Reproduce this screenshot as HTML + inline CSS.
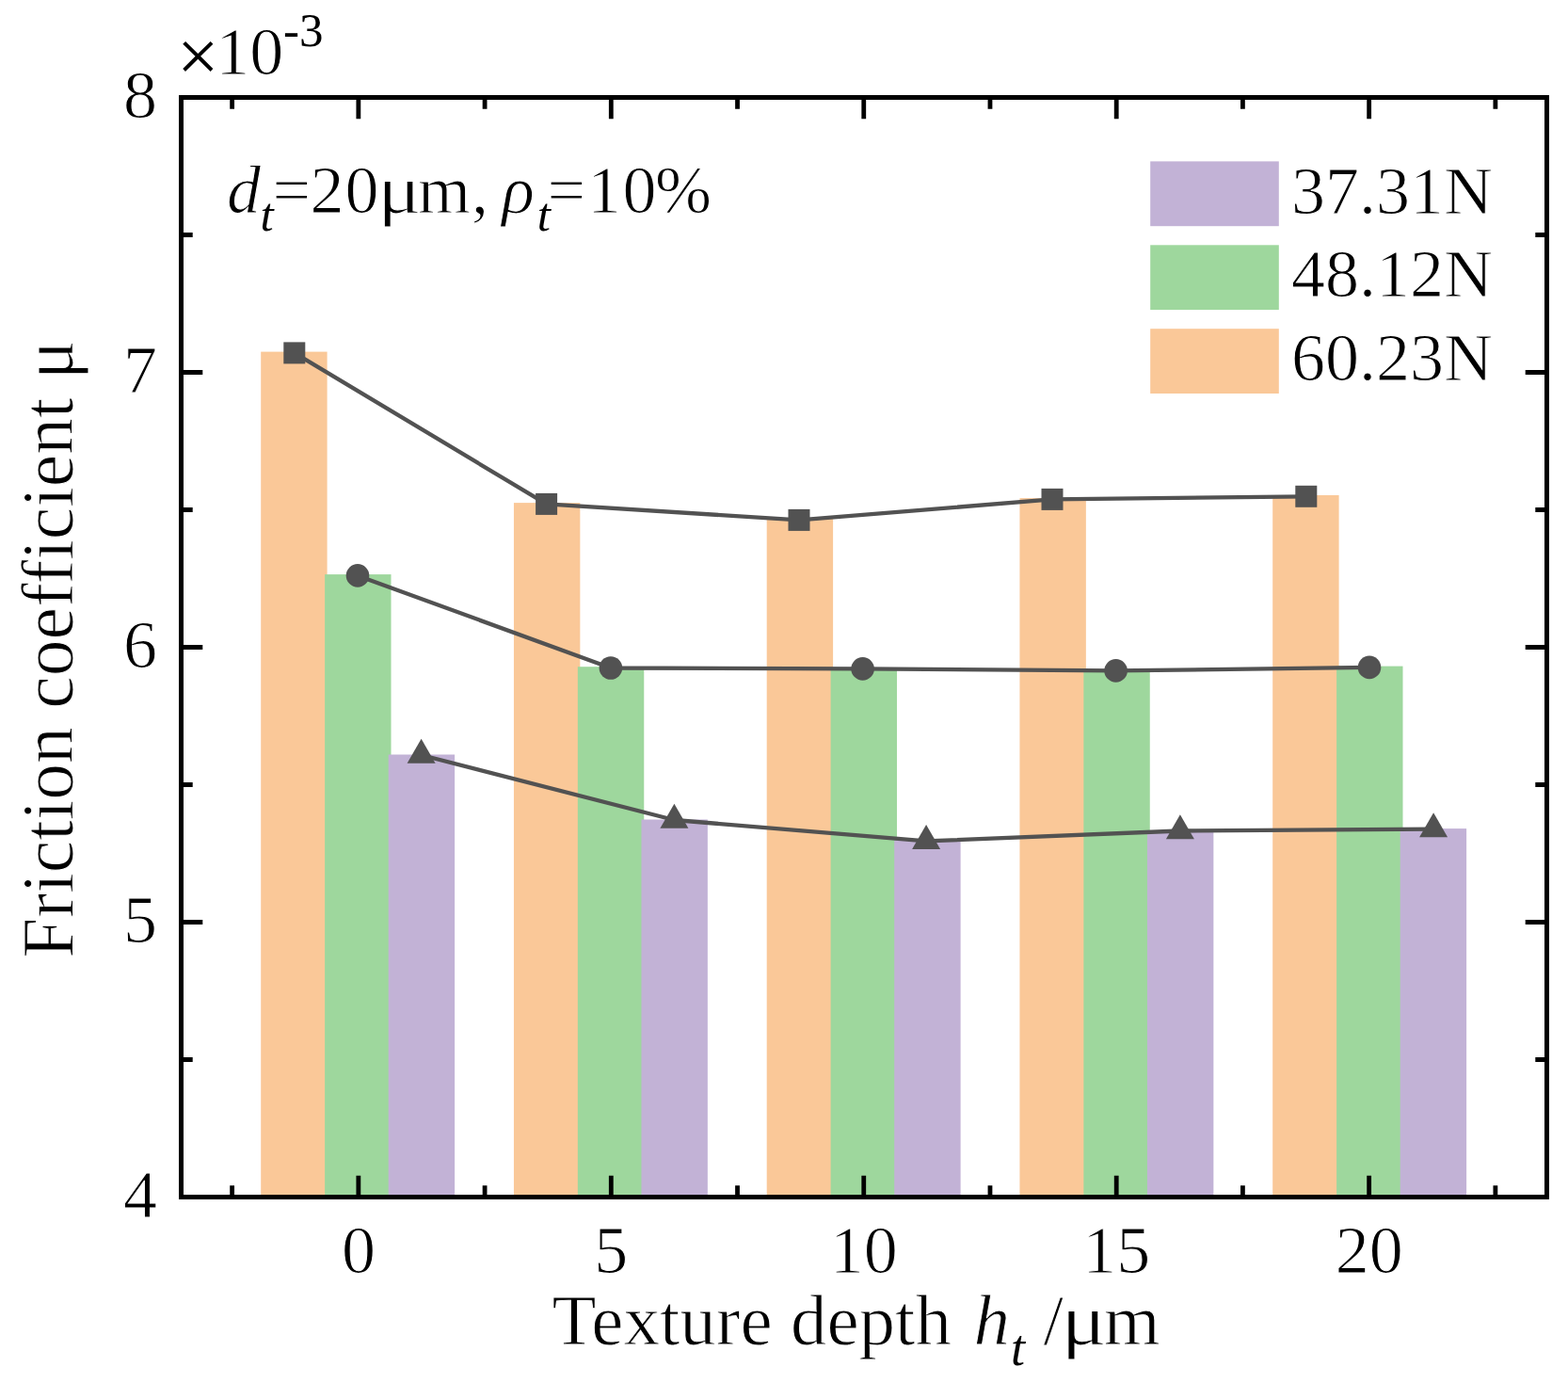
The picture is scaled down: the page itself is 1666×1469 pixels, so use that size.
<!DOCTYPE html>
<html><head><meta charset="utf-8"><title>Friction coefficient chart</title>
<style>html,body{margin:0;padding:0;background:#fff}svg{display:block}</style></head>
<body><svg width="1666" height="1469" viewBox="0 0 1666 1469">
<rect x="0" y="0" width="1666" height="1469" fill="#fff"/>
<rect x="277.20" y="373.60" width="70.40" height="897.90" fill="#FAC898"/>
<rect x="545.95" y="534.10" width="70.40" height="737.40" fill="#FAC898"/>
<rect x="814.70" y="551.10" width="70.40" height="720.40" fill="#FAC898"/>
<rect x="1083.45" y="529.10" width="70.40" height="742.40" fill="#FAC898"/>
<rect x="1352.20" y="526.00" width="70.40" height="745.50" fill="#FAC898"/>
<rect x="345.10" y="610.10" width="70.40" height="661.40" fill="#9ED79D"/>
<rect x="613.85" y="708.20" width="70.40" height="563.30" fill="#9ED79D"/>
<rect x="882.60" y="709.10" width="70.40" height="562.40" fill="#9ED79D"/>
<rect x="1151.35" y="711.10" width="70.40" height="560.40" fill="#9ED79D"/>
<rect x="1420.10" y="707.60" width="70.40" height="563.90" fill="#9ED79D"/>
<rect x="412.70" y="801.50" width="70.40" height="470.00" fill="#C2B2D6"/>
<rect x="681.45" y="870.50" width="70.40" height="401.00" fill="#C2B2D6"/>
<rect x="950.20" y="892.90" width="70.40" height="378.60" fill="#C2B2D6"/>
<rect x="1218.95" y="882.00" width="70.40" height="389.50" fill="#C2B2D6"/>
<rect x="1487.70" y="880.10" width="70.40" height="391.40" fill="#C2B2D6"/>
<polyline fill="none" stroke="#525252" stroke-width="4.3" stroke-linejoin="round" points="312.8,374.9 580.6,535.4 849.0,552.4 1118.0,530.4 1387.8,527.3"/>
<polyline fill="none" stroke="#525252" stroke-width="4.3" stroke-linejoin="round" points="380.0,611.4 648.9,709.5 916.6,710.4 1185.6,712.4 1455.0,708.9"/>
<polyline fill="none" stroke="#525252" stroke-width="4.3" stroke-linejoin="round" points="447.6,802.0 716.4,871.0 984.1,893.4 1253.9,882.5 1523.1,880.6"/>
<rect x="301.30" y="363.40" width="23" height="23" fill="#525252"/>
<rect x="569.10" y="523.90" width="23" height="23" fill="#525252"/>
<rect x="837.50" y="540.90" width="23" height="23" fill="#525252"/>
<rect x="1106.50" y="518.90" width="23" height="23" fill="#525252"/>
<rect x="1376.30" y="515.80" width="23" height="23" fill="#525252"/>
<circle cx="380.0" cy="611.4" r="12.3" fill="#525252"/>
<circle cx="648.9" cy="709.5" r="12.3" fill="#525252"/>
<circle cx="916.6" cy="710.4" r="12.3" fill="#525252"/>
<circle cx="1185.6" cy="712.4" r="12.3" fill="#525252"/>
<circle cx="1455.0" cy="708.9" r="12.3" fill="#525252"/>
<polygon fill="#525252" points="447.60,784.68 462.60,810.66 432.60,810.66"/>
<polygon fill="#525252" points="716.40,853.68 731.40,879.66 701.40,879.66"/>
<polygon fill="#525252" points="984.10,876.08 999.10,902.06 969.10,902.06"/>
<polygon fill="#525252" points="1253.90,865.18 1268.90,891.16 1238.90,891.16"/>
<polygon fill="#525252" points="1523.10,863.28 1538.10,889.26 1508.10,889.26"/>
<path d="M380.85 1271.5V1248.7M380.85 103.5V126.3M649.30 1271.5V1248.7M649.30 103.5V126.3M917.75 1271.5V1248.7M917.75 103.5V126.3M1186.20 1271.5V1248.7M1186.20 103.5V126.3M1454.65 1271.5V1248.7M1454.65 103.5V126.3M246.63 1271.5V1259.3M246.63 103.5V115.7M515.08 1271.5V1259.3M515.08 103.5V115.7M783.52 1271.5V1259.3M783.52 103.5V115.7M1051.97 1271.5V1259.3M1051.97 103.5V115.7M1320.42 1271.5V1259.3M1320.42 103.5V115.7M1588.88 1271.5V1259.3M1588.88 103.5V115.7M192.5 979.50H215.3M1643.5 979.50H1620.7M192.5 687.50H215.3M1643.5 687.50H1620.7M192.5 395.50H215.3M1643.5 395.50H1620.7M192.5 1125.50H204.7M1643.5 1125.50H1631.3M192.5 833.50H204.7M1643.5 833.50H1631.3M192.5 541.50H204.7M1643.5 541.50H1631.3M192.5 249.50H204.7M1643.5 249.50H1631.3" stroke="#000" stroke-width="4.8" fill="none"/>
<rect x="192.5" y="103.5" width="1451.0" height="1168.0" fill="none" stroke="#000" stroke-width="5" stroke-linejoin="miter"/>
<text x="167" y="1293.0" font-family="Liberation Serif, Times New Roman, serif" stroke="#fff" stroke-width="1" font-size="72" text-anchor="end">4</text>
<text x="167" y="1001.0" font-family="Liberation Serif, Times New Roman, serif" stroke="#fff" stroke-width="1" font-size="72" text-anchor="end">5</text>
<text x="167" y="709.0" font-family="Liberation Serif, Times New Roman, serif" stroke="#fff" stroke-width="1" font-size="72" text-anchor="end">6</text>
<text x="167" y="417.0" font-family="Liberation Serif, Times New Roman, serif" stroke="#fff" stroke-width="1" font-size="72" text-anchor="end">7</text>
<text x="167" y="125.0" font-family="Liberation Serif, Times New Roman, serif" stroke="#fff" stroke-width="1" font-size="72" text-anchor="end">8</text>
<text x="380.9" y="1352" font-family="Liberation Serif, Times New Roman, serif" stroke="#fff" stroke-width="1" font-size="72" text-anchor="middle">0</text>
<text x="649.3" y="1352" font-family="Liberation Serif, Times New Roman, serif" stroke="#fff" stroke-width="1" font-size="72" text-anchor="middle">5</text>
<text x="917.8" y="1352" font-family="Liberation Serif, Times New Roman, serif" stroke="#fff" stroke-width="1" font-size="72" text-anchor="middle">10</text>
<text x="1186.2" y="1352" font-family="Liberation Serif, Times New Roman, serif" stroke="#fff" stroke-width="1" font-size="72" text-anchor="middle">15</text>
<text x="1454.7" y="1352" font-family="Liberation Serif, Times New Roman, serif" stroke="#fff" stroke-width="1" font-size="72" text-anchor="middle">20</text>
<rect x="1222.2" y="171.4" width="136.6" height="68.8" fill="#C2B2D6"/>
<text x="1372" y="226.5" font-family="Liberation Serif, Times New Roman, serif" stroke="#fff" stroke-width="1" font-size="72">37.31N</text>
<rect x="1222.2" y="260.3" width="136.6" height="68.8" fill="#9ED79D"/>
<text x="1372" y="315.1" font-family="Liberation Serif, Times New Roman, serif" stroke="#fff" stroke-width="1" font-size="72">48.12N</text>
<rect x="1222.2" y="349.2" width="136.6" height="68.8" fill="#FAC898"/>
<text x="1372" y="403.8" font-family="Liberation Serif, Times New Roman, serif" stroke="#fff" stroke-width="1" font-size="72">60.23N</text>
<text font-family="Liberation Serif, Times New Roman, serif" stroke="#fff" stroke-width="1" font-size="72" y="225.5"><tspan x="241" font-style="italic">d</tspan><tspan x="276.4" y="245" font-style="italic" font-size="51" stroke="none">t</tspan><tspan y="225.5" x="289.4">=</tspan><tspan x="329.4 366.5">20</tspan><tspan x="444.1 501">m,</tspan><tspan x="533.3" font-style="italic">ρ</tspan><tspan x="570.7" y="245" font-style="italic" font-size="51" stroke="none">t</tspan><tspan y="225.5" x="581.4 624 661.5 696">=10%</tspan></text>
<text font-family="Liberation Serif, Times New Roman, serif" stroke="#fff" stroke-width="1" font-size="72" transform="translate(401.3 225.5) scale(1.2 1)">μ</text>
<text transform="translate(76.6 689.6) rotate(-90)" font-family="Liberation Serif, Times New Roman, serif" stroke="#fff" stroke-width="1" font-size="77.6" text-anchor="middle">Friction coefficient μ</text>
<text font-family="Liberation Serif, Times New Roman, serif" stroke="#fff" stroke-width="1" font-size="77" y="1428.4"><tspan x="586.6">Texture depth </tspan><tspan x="1034.4" font-style="italic">h</tspan><tspan x="1074" y="1449.5" font-style="italic" font-size="54" stroke="none">t</tspan><tspan x="1108.4" y="1428.4">/</tspan><tspan x="1172.8">m</tspan></text>
<text font-family="Liberation Serif, Times New Roman, serif" stroke="#fff" stroke-width="1" font-size="77" transform="translate(1127.4 1428.4) scale(1.17 1)">μ</text>
<text x="188" y="85.7" font-family="Liberation Serif, Times New Roman, serif" font-size="79">×</text>
<text x="229.3" y="78.8" font-family="Liberation Serif, Times New Roman, serif" stroke="#fff" stroke-width="1" font-size="72">10<tspan font-size="51" stroke="none" x="301.1" y="49.3">-3</tspan></text>
</svg></body></html>
